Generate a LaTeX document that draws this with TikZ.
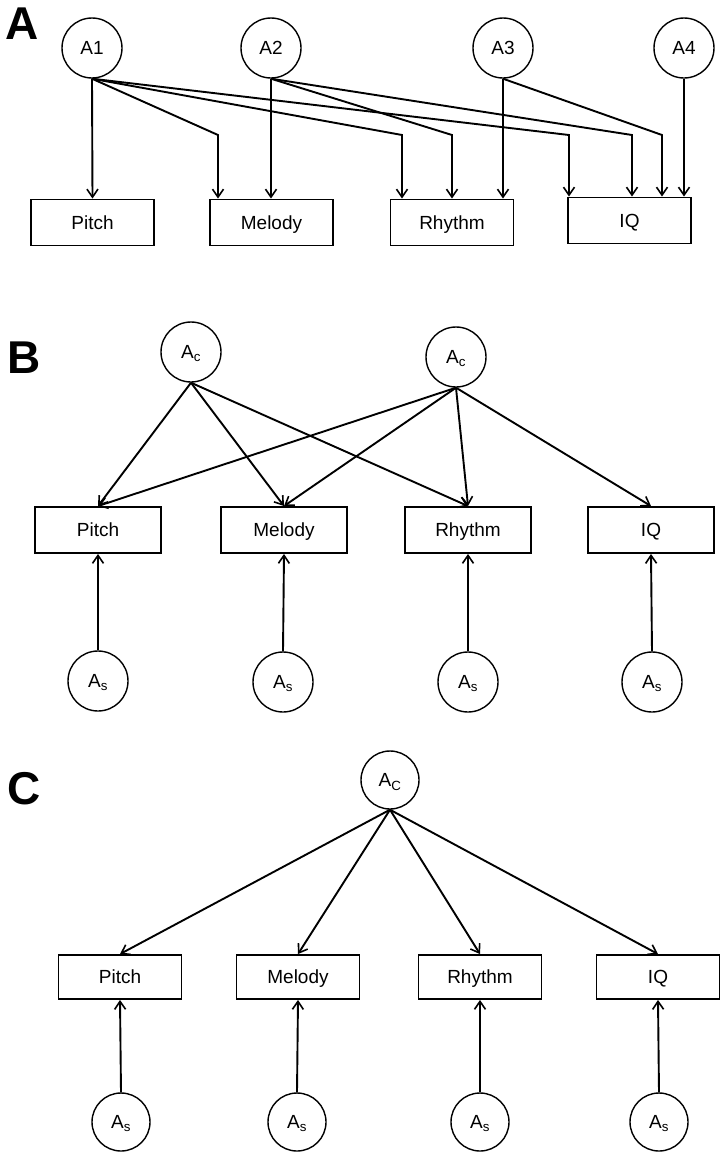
\documentclass[tikz,border=0pt]{standalone}
\usepackage{fontspec}
\setmainfont{Liberation Sans}
\usetikzlibrary{arrows.meta}

\tikzset{
  latent/.style = {circle, draw, line width=1.4pt, minimum size=60pt, inner sep=0pt, text height=13.5pt, text depth=0pt},
  measure/.style = {rectangle, draw, line width=1.9pt, minimum width=123pt, minimum height=46pt, inner sep=0pt, text height=13.5pt, text depth=0pt},
  arr/.style = {line width=1.9pt, -{Straight Barb[length=8pt, width=11pt, line width=1.6pt]}},
  panel/.style = {font=\fontsize{46}{46}\selectfont\bfseries, inner sep=0pt, anchor=north west},
}

\begin{document}
\begin{tikzpicture} [x=1pt, y=-1pt, every node/.style={font=\fontsize{19}{21}\selectfont}]

\useasboundingbox (0,0) rectangle (720,1157);

% panel A: four factors
\node [panel] (labA) at (5,8) {A};
\node [latent] (a1) at (92,48) {A1};
\node [latent] (a2) at (271,48) {A2};
\node [latent] (a3) at (503,48) {A3};
\node [latent] (a4) at (684,48) {A4};

\node [measure] (pitchA) at (92.5,222.5) {Pitch};
\node [measure] (melodyA) at (271.5,222.5) {Melody};
\node [measure] (rhythmA) at (452,222.5) {Rhythm};
\node [measure] (iqA) at (629.5,220.5) {IQ};

% the bends
\coordinate (k1) at (218,135);
\coordinate (k2) at (402,135);
\coordinate (k3) at (569,135);
\coordinate (k4) at (452,135);
\coordinate (k5) at (632,135);
\coordinate (k6) at (662,135);

\draw [arr] (a1.south) -- (pitchA.north);
\draw [arr] (a1.south) -- (k1) -- (k1 |- melodyA.north);
\draw [arr] (a1.south) -- (k2) -- (k2 |- rhythmA.north);
\draw [arr] (a1.south) -- (k3) -- (k3 |- iqA.north);
\draw [arr] (a2.south) -- (a2.south |- melodyA.north);
\draw [arr] (a2.south) -- (k4) -- (k4 |- rhythmA.north);
\draw [arr] (a2.south) -- (k5) -- (k5 |- iqA.north);
\draw [arr] (a3.south) -- (a3.south |- rhythmA.north);
\draw [arr] (a3.south) -- (k6) -- (k6 |- iqA.north);
\draw [arr] (a4.south) -- (a4.south |- iqA.north);

% panel B: two common factors
\node [panel] (labB) at (7,342) {B};
\node [latent] (acB1) at (191,352) {A\textsubscript{c}};
\node [latent] (acB2) at (456,357) {A\textsubscript{c}};

\node [measure, minimum width=126pt] (pitchB) at (98,530) {Pitch};
\node [measure, minimum width=126pt] (melodyB) at (284,530) {Melody};
\node [measure, minimum width=126pt] (rhythmB) at (468,530) {Rhythm};
\node [measure, minimum width=126pt] (iqB) at (651,530) {IQ};

\node [latent] (asB1) at (98,681) {A\textsubscript{s}};
\node [latent] (asB2) at (283,682) {A\textsubscript{s}};
\node [latent] (asB3) at (468,682) {A\textsubscript{s}};
\node [latent] (asB4) at (652,682) {A\textsubscript{s}};

\draw [arr] (acB1.south) -- (pitchB.north);
\draw [arr] (acB1.south) -- (melodyB.north);
\draw [arr] (acB1.south) -- (rhythmB.north);
\draw [arr] (acB2.south) -- (pitchB.north);
\draw [arr] (acB2.south) -- (melodyB.north);
\draw [arr] (acB2.south) -- (rhythmB.north);
\draw [arr] (acB2.south) -- (iqB.north);

\draw [arr] (asB1.north) -- (pitchB.south);
\draw [arr] (asB2.north) -- (melodyB.south);
\draw [arr] (asB3.north) -- (rhythmB.south);
\draw [arr] (asB4.north) -- (iqB.south);

% panel C: one common factor
\node [panel] (labC) at (7,772) {C};
\node [latent, minimum size=58pt] (acC) at (390,780) {A\textsubscript{C}};

\node [measure, minimum height=44pt] (pitchC) at (120,977) {Pitch};
\node [measure, minimum height=44pt] (melodyC) at (298,977) {Melody};
\node [measure, minimum height=44pt] (rhythmC) at (480,977) {Rhythm};
\node [measure, minimum height=44pt] (iqC) at (658,977) {IQ};

\node [latent, minimum size=58pt] (asC1) at (121,1122) {A\textsubscript{s}};
\node [latent, minimum size=58pt] (asC2) at (297,1122) {A\textsubscript{s}};
\node [latent, minimum size=58pt] (asC3) at (480,1122) {A\textsubscript{s}};
\node [latent, minimum size=58pt] (asC4) at (659,1122) {A\textsubscript{s}};

\draw [arr] (acC.south) -- (pitchC.north);
\draw [arr] (acC.south) -- (melodyC.north);
\draw [arr] (acC.south) -- (rhythmC.north);
\draw [arr] (acC.south) -- (iqC.north);

\draw [arr] (asC1.north) -- (pitchC.south);
\draw [arr] (asC2.north) -- (melodyC.south);
\draw [arr] (asC3.north) -- (rhythmC.south);
\draw [arr] (asC4.north) -- (iqC.south);

\end{tikzpicture}
\end{document}
